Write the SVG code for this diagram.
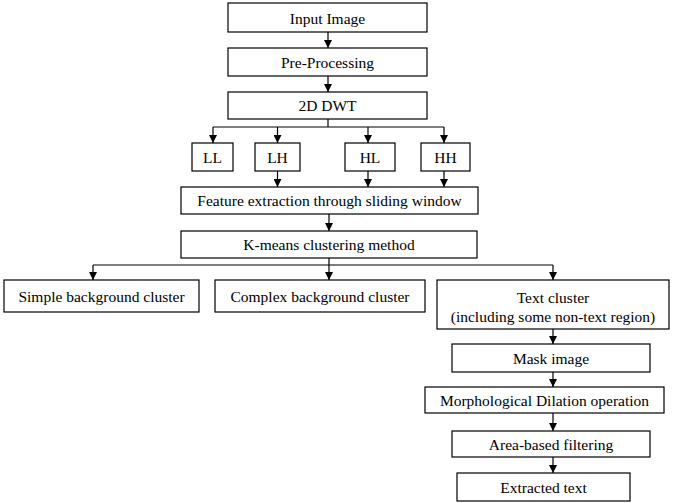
<svg xmlns="http://www.w3.org/2000/svg" width="676" height="503" viewBox="0 0 676 503">
<defs>
<marker id="ah" viewBox="0 0 10 10" refX="10" refY="5" markerWidth="8" markerHeight="8" markerUnits="userSpaceOnUse" orient="auto">
<path d="M0,0 L10,5 L0,10 z" fill="#000"/>
</marker>
<style>
.box{fill:#fff;stroke:#000;stroke-width:1.2}
.t{font-size:15.5px;fill:#000;text-anchor:middle;dominant-baseline:central}
.c{fill:none;stroke:#000;stroke-width:1.2}
.a{fill:none;stroke:#000;stroke-width:1.2;marker-end:url(#ah)}
</style>
</defs>
<rect width="676" height="503" fill="#fff"/>
<g id="connectors">
<line class="a" x1="328" y1="32" x2="328" y2="48"/>
<line class="a" x1="328" y1="76" x2="328" y2="92"/>
<line class="c" x1="328" y1="119" x2="328" y2="127"/>
<line class="c" x1="213" y1="127" x2="444" y2="127"/>
<line class="a" x1="213" y1="127" x2="213" y2="143"/>
<line class="a" x1="277.5" y1="127" x2="277.5" y2="143"/>
<line class="a" x1="368" y1="127" x2="368" y2="143"/>
<line class="a" x1="444" y1="127" x2="444" y2="143"/>
<line class="a" x1="277.5" y1="171" x2="277.5" y2="187"/>
<line class="a" x1="368" y1="171" x2="368" y2="187"/>
<line class="a" x1="444" y1="171" x2="444" y2="187"/>
<line class="a" x1="329" y1="214" x2="329" y2="231"/>
<line class="c" x1="329" y1="258" x2="329" y2="265"/>
<line class="c" x1="93" y1="265" x2="553" y2="265"/>
<line class="a" x1="93" y1="265" x2="93" y2="280"/>
<line class="a" x1="329" y1="265" x2="329" y2="280"/>
<line class="a" x1="553" y1="265" x2="553" y2="280"/>
<line class="a" x1="553" y1="329" x2="553" y2="344"/>
<line class="a" x1="553" y1="372" x2="553" y2="387"/>
<line class="a" x1="553" y1="413" x2="553" y2="431"/>
<line class="a" x1="553" y1="457" x2="553" y2="473"/>
</g>
<g font-family="'Liberation Serif', 'Times New Roman', 'DejaVu Serif', serif">
<g id="input"><rect class="box" x="228" y="3" width="199" height="29"/><text class="t" x="327.5" y="18">Input Image</text></g>
<g id="preproc"><rect class="box" x="228" y="48" width="199" height="28"/><text class="t" x="327.5" y="62">Pre-Processing</text></g>
<g id="dwt"><rect class="box" x="228" y="92" width="199" height="27"/><text class="t" x="327.5" y="105.5">2D DWT</text></g>
<g id="ll"><rect class="box" x="192" y="143" width="41" height="28"/><text class="t" x="212.5" y="157">LL</text></g>
<g id="lh"><rect class="box" x="255" y="143" width="45" height="28"/><text class="t" x="277.5" y="157">LH</text></g>
<g id="hl"><rect class="box" x="345" y="143" width="50" height="28"/><text class="t" x="370" y="157">HL</text></g>
<g id="hh"><rect class="box" x="421" y="143" width="49" height="28"/><text class="t" x="445.5" y="157">HH</text></g>
<g id="feature"><rect class="box" x="181" y="187" width="297" height="27"/><text class="t" x="329.5" y="200.5">Feature extraction through sliding window</text></g>
<g id="kmeans"><rect class="box" x="181" y="231" width="296" height="27"/><text class="t" x="329" y="244.5">K-means clustering method</text></g>
<g id="simple"><rect class="box" x="4" y="280" width="195" height="32"/><text class="t" x="101.5" y="296">Simple background cluster</text></g>
<g id="complex"><rect class="box" x="215" y="280" width="210" height="32"/><text class="t" x="320" y="296">Complex background cluster</text></g>
<g id="textcluster"><rect class="box" x="437" y="280" width="232" height="49"/><text class="t" x="553" y="297">Text cluster</text><text class="t" x="553" y="316">(including some non-text region)</text></g>
<g id="mask"><rect class="box" x="452" y="344" width="198" height="28"/><text class="t" x="551" y="358">Mask image</text></g>
<g id="morph"><rect class="box" x="425" y="387" width="239" height="26"/><text class="t" x="544.5" y="400">Morphological Dilation operation</text></g>
<g id="area"><rect class="box" x="452" y="431" width="198" height="26"/><text class="t" x="551" y="444">Area-based filtering</text></g>
<g id="extracted"><rect class="box" x="457" y="473" width="173" height="28"/><text class="t" x="543.5" y="487">Extracted text</text></g>
</g>
</svg>
